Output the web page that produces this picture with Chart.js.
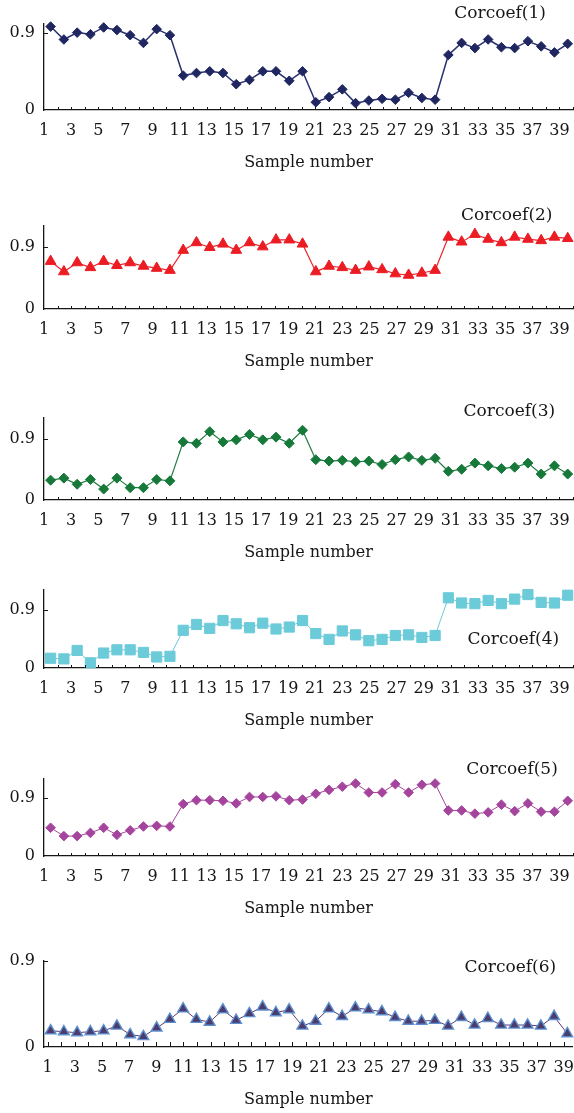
<!DOCTYPE html>
<html><head><meta charset="utf-8">
<script src="https://cdn.jsdelivr.net/npm/chart.js@4.4.1/dist/chart.umd.min.js"></script>
<style>
html,body{margin:0;padding:0;background:#fff;}
body{width:574px;height:1113px;position:relative;overflow:hidden;}
canvas{position:absolute;left:0;}
</style></head><body>
<script>
// ---- data ----
const samples = [1,2,3,4,5,6,7,8,9,10,11,12,13,14,15,16,17,18,19,20,21,22,23,24,25,26,27,28,29,30,31,32,33,34,35,36,37,38,39,40];
const xTickLabels = ['1','3','5','7','9','11','13','15','17','19','21','23','25','27','29','31','33','35','37','39'];
const yTickValues = [0, 0.9];
const yTickLabels = ['0', '0.9'];
const seriesNames = ['Corcoef(1)','Corcoef(2)','Corcoef(3)','Corcoef(4)','Corcoef(5)','Corcoef(6)'];
const corcoef1 = [0.97,0.82,0.90,0.88,0.96,0.93,0.87,0.78,0.94,0.87, 0.40,0.43,0.45,0.43,0.30,0.35,0.45,0.45,0.34,0.45, 0.09,0.15,0.24,0.08,0.11,0.13,0.12,0.20,0.14,0.12, 0.64,0.78,0.72,0.82,0.73,0.72,0.80,0.74,0.67,0.77];
const corcoef2 = [0.69,0.54,0.67,0.60,0.69,0.63,0.67,0.62,0.59,0.56, 0.85,0.96,0.89,0.94,0.85,0.96,0.90,1.00,1.00,0.94, 0.54,0.62,0.60,0.56,0.61,0.57,0.51,0.49,0.52,0.56, 1.04,0.97,1.08,1.01,0.96,1.04,1.01,0.99,1.04,1.02];
const corcoef3 = [0.29,0.32,0.23,0.30,0.16,0.32,0.18,0.18,0.30,0.28, 0.85,0.83,1.00,0.85,0.88,0.96,0.88,0.92,0.83,1.02, 0.59,0.57,0.58,0.56,0.57,0.52,0.59,0.63,0.58,0.61, 0.42,0.45,0.54,0.50,0.46,0.48,0.54,0.38,0.50,0.38];
const corcoef4 = [0.15,0.14,0.27,0.08,0.23,0.28,0.28,0.24,0.17,0.18, 0.58,0.67,0.61,0.73,0.68,0.62,0.69,0.60,0.63,0.73, 0.53,0.44,0.57,0.51,0.42,0.44,0.50,0.51,0.47,0.50, 1.08,1.00,0.99,1.04,0.99,1.06,1.13,1.01,1.00,1.12];
const corcoef5 = [0.44,0.31,0.31,0.36,0.44,0.33,0.40,0.46,0.47,0.46, 0.81,0.87,0.87,0.86,0.82,0.92,0.92,0.93,0.87,0.88, 0.97,1.03,1.08,1.13,0.99,0.99,1.12,0.99,1.11,1.13, 0.71,0.71,0.66,0.68,0.80,0.70,0.82,0.69,0.69,0.86];
const corcoef6 = [0.17,0.16,0.15,0.16,0.17,0.22,0.13,0.11,0.20,0.29, 0.40,0.29,0.26,0.39,0.28,0.35,0.42,0.36,0.39,0.22, 0.27,0.40,0.32,0.41,0.39,0.37,0.31,0.27,0.27,0.28, 0.22,0.31,0.23,0.30,0.23,0.23,0.23,0.22,0.32,0.14];

// ---- styling / layout per panel ----
const FONT = "'DejaVu Serif', 'Liberation Serif', serif";
const INK = '#161616';
const panels = [
  {values: corcoef1, name: seriesNames[0], line:'#283070', fill:'#1f2660', border:'#1f2660', style:'rectRot', r:4.8, lw:1.5, yMax:1.0, top:0,   padTop:24, plotH:86, labX:34.9, labY:1.12,  lxMin:1,    lxMax:40,    tickLen:3},
  {values: corcoef2, name: seriesNames[1], line:'#ee2328', fill:'#ec1c24', border:'#ec1c24', style:'triangle', r:6.2, lw:1.2, yMax:1.2, top:196, padTop:30, plotH:83, labX:35.4, labY:1.355, lxMin:1,    lxMax:40,    tickLen:3},
  {values: corcoef3, name: seriesNames[2], line:'#1d7c3f', fill:'#16793a', border:'#16793a', style:'rectRot', r:5.0, lw:1.2, yMax:1.2, top:388, padTop:30, plotH:82, labX:35.6, labY:1.30,  lxMin:1,    lxMax:40,    tickLen:3},
  {values: corcoef4, name: seriesNames[3], line:'#6ccbd9', fill:'#6ccbd9', border:'#6ccbd9', style:'rect',    r:7.2, lw:1.0, yMax:1.2, top:560, padTop:30, plotH:78, labX:35.9, labY:0.437, lxMin:1,    lxMax:40,    tickLen:3},
  {values: corcoef5, name: seriesNames[4], line:'#a5449d', fill:'#a5449d', border:'#a5449d', style:'rectRot', r:4.8, lw:1.0, yMax:1.2, top:749, padTop:30, plotH:77, labX:35.8, labY:1.343, lxMin:1,    lxMax:40,    tickLen:3},
  {values: corcoef6, name: seriesNames[5], line:'#5e3d70', fill:'#4b3c6d', border:'#5d8fcf', style:'triangle', r:6.2, lw:1.0, yMax:0.9, top:931, padTop:30, plotH:86, labX:35.7, labY:0.834, lxMin:0.73, lxMax:39.65, tickLen:5}
];
const X_AXIS_H = 68;
const Y_AXIS_W = 44;

const decor = {
  id: 'decor',
  afterDraw(chart, args, opts) {
    const ctx = chart.ctx, ca = chart.chartArea;
    const xs = chart.scales.x2, xd = chart.scales.x, ys = chart.scales.y;
    ctx.save();
    ctx.strokeStyle = INK;
    ctx.lineWidth = 1;
    ctx.beginPath();
    samples.forEach(v => {
      if (v <= xs.min || v > xs.max) return;
      const px = Math.round(xs.getPixelForValue(v)) + 0.5;
      ctx.moveTo(px, ca.bottom);
      ctx.lineTo(px, ca.bottom - opts.tickLen);
    });
    const py = Math.round(ys.getPixelForValue(yTickValues[1])) + 0.5;
    ctx.moveTo(ca.left, py);
    ctx.lineTo(ca.left + 4, py);
    ctx.stroke();
    ctx.fillStyle = INK;
    ctx.font = "17px " + FONT;
    ctx.textAlign = 'center';
    ctx.textBaseline = 'middle';
    ctx.fillText(opts.text, xd.getPixelForValue(opts.labX), ys.getPixelForValue(opts.labY));
    ctx.restore();
  }
};

panels.forEach(p => {
  const cv = document.createElement('canvas');
  const h = p.padTop + p.plotH + X_AXIS_H;
  cv.width = 574; cv.height = h;
  cv.style.top = p.top + 'px';
  cv.style.width = '574px'; cv.style.height = h + 'px';
  document.body.appendChild(cv);
  new Chart(cv, {
    type: 'line',
    data: {
      datasets: [{
        data: p.values.map((v, i) => ({x: samples[i], y: v})),
        xAxisID: 'x', yAxisID: 'y',
        borderColor: p.line, borderWidth: p.lw,
        pointStyle: p.style, pointRadius: p.r, pointHoverRadius: p.r,
        pointBackgroundColor: p.fill, pointBorderColor: p.border,
        pointBorderWidth: p.style === 'triangle' && p.border !== p.fill ? 1.4 : 1,
        tension: 0, fill: false, clip: false
      }]
    },
    options: {
      responsive: false, animation: false, devicePixelRatio: 1,
      layout: {autoPadding: false, padding: {top: p.padTop, left: 0, right: 1, bottom: 0}},
      plugins: {legend: {display: false}, tooltip: {enabled: false},
        decor: {text: p.name, labX: p.labX, labY: p.labY, tickLen: p.tickLen}},
      scales: {
        x: {type: 'linear', display: false, min: 0.5, max: 40.4},
        x2: {
          type: 'linear', position: 'bottom', min: p.lxMin, max: p.lxMax,
          grid: {display: false, drawTicks: false},
          border: {display: true, color: INK, width: 1.3},
          afterBuildTicks: s => { s.ticks = samples.filter(v => v >= s.min && v <= s.max).map(v => ({value: v})); },
          afterFit: s => { s.height = X_AXIS_H; },
          ticks: {
            autoSkip: false, maxRotation: 0, padding: 0, color: INK,
            font: {family: FONT, size: 16, lineHeight: 2.6},
            callback: v => xTickLabels.includes(String(v)) ? String(v) : ''
          },
          title: {display: true, text: 'Sample number', color: INK,
            font: {family: FONT, size: 16, lineHeight: 1.2}, padding: {top: 0, bottom: 6}}
        },
        y: {
          type: 'linear', position: 'left', min: 0, max: p.yMax,
          grid: {display: false, drawTicks: false},
          border: {display: true, color: INK, width: 1.3},
          afterBuildTicks: s => { s.ticks = yTickValues.map(v => ({value: v})); },
          afterFit: s => { s.width = Y_AXIS_W; },
          ticks: {
            padding: 9, color: INK, font: {family: FONT, size: 16},
            callback: v => yTickLabels[yTickValues.indexOf(v)]
          }
        }
      }
    },
    plugins: [decor]
  });
});
</script>
</body></html>
